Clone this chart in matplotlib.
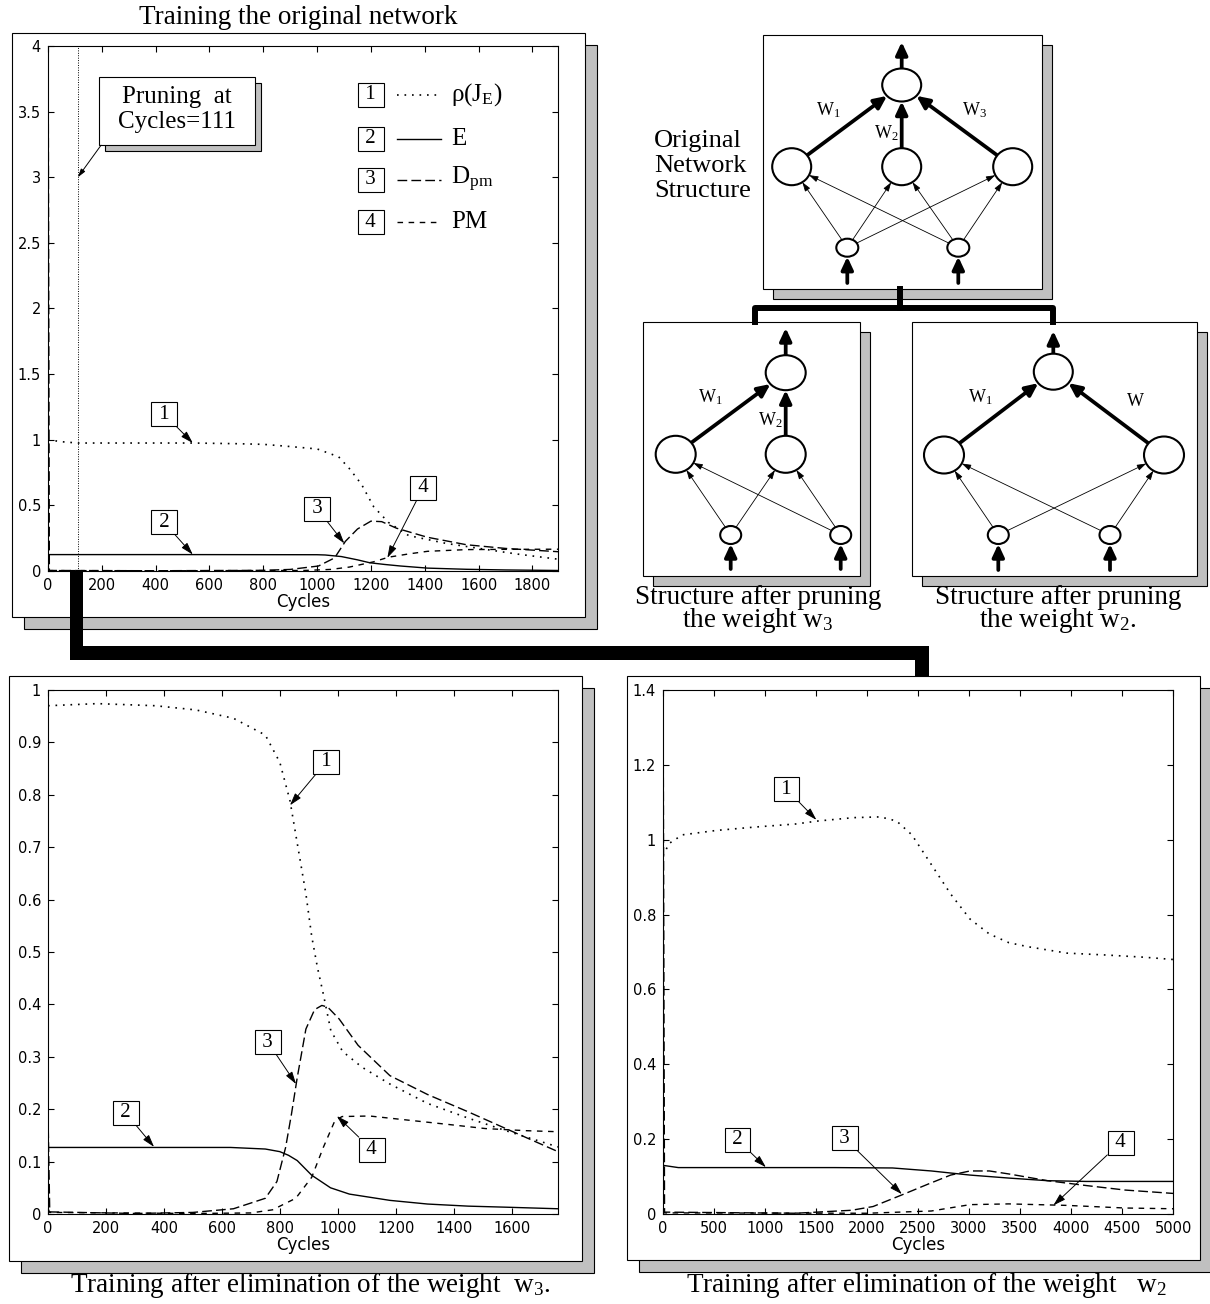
import numpy as np
import matplotlib.pyplot as plt
from matplotlib.patches import Rectangle, Ellipse
from matplotlib.ticker import FuncFormatter

plt.rcParams['font.family'] = ['DejaVu Sans']
plt.rcParams['mathtext.fontset'] = 'custom'
plt.rcParams['mathtext.rm'] = 'Liberation Serif'
plt.rcParams['mathtext.it'] = 'Liberation Serif:italic'
SERIF = ['Liberation Serif', 'DejaVu Serif']

# ---- panel 1: training the original network ----
p1_rho_x = [0, 50, 111, 300, 540, 700, 800, 890, 1000, 1080, 1120, 1165, 1210, 1265, 1340, 1480, 1625, 1740, 1895]
p1_rho_y = [1.0, 0.985, 0.975, 0.975, 0.975, 0.97, 0.965, 0.95, 0.93, 0.87, 0.78, 0.66, 0.49, 0.37, 0.27, 0.21, 0.165, 0.13, 0.09]
p1_e_x = [0, 500, 1000, 1030, 1090, 1150, 1195, 1250, 1310, 1410, 1555, 1700, 1895]
p1_e_y = [0.125, 0.125, 0.124, 0.122, 0.11, 0.085, 0.063, 0.05, 0.038, 0.022, 0.013, 0.008, 0.004]
p1_dpm_x = [0, 5, 400, 800, 900, 1005, 1065, 1105, 1150, 1200, 1240, 1295, 1410, 1555, 1700, 1895]
p1_dpm_y = [4.5, 0.004, 0.002, 0.005, 0.012, 0.038, 0.1, 0.226, 0.32, 0.38, 0.376, 0.326, 0.257, 0.2, 0.172, 0.147]
p1_pm_x = [0, 5, 500, 950, 1050, 1120, 1210, 1265, 1340, 1410, 1555, 1700, 1895]
p1_pm_y = [0.01, 0.003, 0.002, 0.004, 0.012, 0.03, 0.07, 0.105, 0.13, 0.15, 0.163, 0.165, 0.166]
prune_cycle = 111

# ---- panel 3: after elimination of w3 ----
p3_rho_x = [0, 170, 370, 510, 640, 750, 800, 835, 860, 890, 910, 930, 950, 976, 1017, 1084, 1180, 1310, 1450, 1580, 1760]
p3_rho_y = [0.97, 0.974, 0.97, 0.962, 0.946, 0.914, 0.862, 0.789, 0.708, 0.611, 0.53, 0.47, 0.42, 0.35, 0.31, 0.28, 0.248, 0.211, 0.183, 0.159, 0.128]
p3_e_x = [0, 200, 630, 750, 800, 830, 860, 910, 975, 1040, 1180, 1310, 1450, 1580, 1760]
p3_e_y = [0.127, 0.127, 0.127, 0.124, 0.119, 0.112, 0.102, 0.074, 0.05, 0.038, 0.026, 0.019, 0.015, 0.013, 0.01]
p3_dpm_x = [0, 6, 300, 500, 640, 750, 790, 820, 840, 860, 890, 920, 945, 965, 1005, 1070, 1180, 1310, 1450, 1580, 1760]
p3_dpm_y = [0.19, 0.004, 0.001, 0.003, 0.01, 0.03, 0.062, 0.127, 0.19, 0.26, 0.353, 0.39, 0.398, 0.395, 0.372, 0.322, 0.264, 0.228, 0.195, 0.163, 0.119]
p3_pm_x = [0, 6, 500, 700, 775, 855, 910, 950, 990, 1015, 1110, 1245, 1380, 1510, 1650, 1760]
p3_pm_y = [0.01, 0.003, 0.001, 0.002, 0.008, 0.03, 0.07, 0.127, 0.178, 0.186, 0.187, 0.179, 0.171, 0.163, 0.159, 0.157]

# ---- panel 4: after elimination of w2 ----
p4_rho_x = [0, 60, 190, 530, 910, 1300, 1520, 1870, 2130, 2290, 2440, 2630, 2820, 3010, 3200, 3390, 3580, 3960, 4340, 4720, 5000]
p4_rho_y = [0.957, 0.99, 1.013, 1.025, 1.034, 1.042, 1.05, 1.059, 1.061, 1.05, 1.013, 0.934, 0.855, 0.788, 0.748, 0.725, 0.714, 0.697, 0.692, 0.686, 0.68]
p4_e_x = [0, 150, 1680, 2250, 2630, 3010, 3390, 3770, 4150, 5000]
p4_e_y = [0.13, 0.124, 0.124, 0.123, 0.115, 0.104, 0.096, 0.089, 0.087, 0.087]
p4_dpm_x = [0, 15, 1300, 1850, 2060, 2360, 2600, 2820, 3010, 3200, 3390, 3770, 4150, 4530, 5000]
p4_dpm_y = [1.5, 0.005, 0.002, 0.01, 0.02, 0.053, 0.08, 0.104, 0.115, 0.115, 0.107, 0.089, 0.076, 0.064, 0.055]
p4_pm_x = [0, 15, 2000, 2630, 3010, 3390, 3960, 4530, 5000]
p4_pm_y = [0.01, 0.003, 0.002, 0.008, 0.025, 0.027, 0.023, 0.016, 0.014]

W, H = 1210, 1304
fig = plt.figure(figsize=(W / 100, H / 100), dpi=100)
bg = fig.add_axes([0, 0, 1, 1], zorder=0)
bg.set_xlim(0, W)
bg.set_ylim(H, 0)
bg.axis('off')


def px_axes(x0, y0, x1, y1):
    return fig.add_axes([x0 / W, 1 - y1 / H, (x1 - x0) / W, (y1 - y0) / H], zorder=2)


def frame(x0, y0, x1, y1, off):
    bg.add_patch(Rectangle((x0 + off, y0 + off), x1 - x0, y1 - y0, fc='#c0c0c0', ec='k', lw=0.8, zorder=1))
    bg.add_patch(Rectangle((x0, y0), x1 - x0, y1 - y0, fc='white', ec='k', lw=0.8, zorder=2))


def style(ax, xmax, ymax, xt, yt):
    ax.set_xlim(0, xmax)
    ax.set_ylim(0, ymax)
    ax.set_xticks(xt)
    ax.set_yticks(yt)
    ax.yaxis.set_major_formatter(FuncFormatter(lambda v, p: f'{round(v, 2):g}'))
    ax.tick_params(direction='in', top=True, right=True, length=4.5, width=0.8, labelsize=10.5, pad=5)
    for s in ax.spines.values():
        s.set_linewidth(0.8)
    ax.set_xlabel('Cycles', fontsize=12, labelpad=0)


DOT = (0, (1, 3.5))


def curves(ax, rx, ry, ex, ey, dx, dy, px, py):
    ax.plot(rx, ry, color='k', lw=1.2, ls=DOT)
    ax.plot(ex, ey, color='k', lw=1.0, ls='-')
    ax.plot(dx, dy, color='k', lw=1.0, ls=(0, (7, 3)))
    ax.plot(px, py, color='k', lw=1.0, ls=(0, (4, 4)))


def tag(ax, n, xy, xytext):
    ax.annotate(f' {n} ', xy=xy, xytext=xytext, fontsize=15, family=SERIF, ha='center', va='center',
                bbox=dict(boxstyle='square,pad=0.12', fc='white', ec='k', lw=0.8),
                arrowprops=dict(arrowstyle='-|>,head_length=0.5,head_width=0.15', color='k', lw=0.7,
                                shrinkA=0, shrinkB=0), zorder=6)


# frames and shadows
frame(12, 33, 585, 617, 12)
frame(9, 676, 582, 1261, 12)
frame(627, 676, 1200, 1260, 12)
frame(763, 35, 1042, 289, 10)
frame(643, 322, 860, 576, 10)
frame(912, 322, 1197, 576, 10)

# thick connectors between the training panels
bg.add_patch(Rectangle((70, 571), 13, 89, fc='k', ec='none', zorder=3))
bg.add_patch(Rectangle((70, 646), 859, 14, fc='k', ec='none', zorder=3))
bg.add_patch(Rectangle((915, 646), 14, 30, fc='k', ec='none', zorder=3))
# connectors between the network structures
bg.plot([754.5, 754.5, 1053, 1053], [322, 308, 308, 322], color='k', lw=4.3, solid_joinstyle='round', zorder=3)
bg.plot([899.5, 899.5], [289, 308], color='k', lw=4.3, zorder=3)

# titles and captions
bg.text(298, 17, 'Training the original network', fontsize=19.5, family=SERIF, ha='center', va='center')
bg.text(310, 1286, 'Training after elimination of the weight  w$_3$.', fontsize=19.5, family=SERIF, ha='center', va='center')
bg.text(926, 1286, 'Training after elimination of the weight   w$_2$', fontsize=19.5, family=SERIF, ha='center', va='center')
bg.text(758, 610, 'Structure after pruning\nthe weight w$_3$', fontsize=19.5, family=SERIF,
        ha='center', va='center', multialignment='center', linespacing=0.8)
bg.text(1058, 610, 'Structure after pruning\nthe weight w$_2$.', fontsize=19.5, family=SERIF,
        ha='center', va='center', multialignment='center', linespacing=0.8)
bg.text(654, 166, 'Original\nNetwork\nStructure', fontsize=19, family=SERIF, ha='left', va='center', linespacing=1.2)


# ---- network diagrams ----
def edge_pt(a, b):
    dx, dy = b[0] - a[0], b[1] - a[1]
    t = 1 / np.sqrt((dx / (a[2] / 2)) ** 2 + (dy / (a[3] / 2)) ** 2)
    return (a[0] + dx * t, a[1] + dy * t)


def arrow(p0, p1, thick):
    if thick:
        props = dict(arrowstyle='-|>,head_length=0.75,head_width=0.35', color='k', lw=2.7, shrinkA=0, shrinkB=0)
    else:
        props = dict(arrowstyle='-|>,head_length=0.55,head_width=0.18', color='k', lw=0.6, shrinkA=0, shrinkB=0)
    bg.annotate('', xy=p1, xytext=p0, arrowprops=props, zorder=4)


def network(out, hidden, inputs, weighted, labels, in_bottom, out_top):
    for n in [out] + hidden + inputs:
        bg.add_patch(Ellipse((n[0], n[1]), n[2], n[3], fc='white', ec='k', lw=1.5, zorder=5))
    arrow((out[0], out[1] - out[3] / 2), (out[0], out_top), True)
    for n in inputs:
        arrow((n[0], in_bottom), (n[0], n[1] + n[3] / 2), True)
        for h in hidden:
            arrow(edge_pt(n, h), edge_pt(h, n), False)
    for h in weighted:
        arrow(edge_pt(h, out), edge_pt(out, h), True)
    for (lx, ly, s) in labels:
        bg.text(lx, ly, s, fontsize=13, family=SERIF, ha='center', va='center', zorder=6)


hid_top = [(791.7, 166.7, 39, 37), (901.7, 166.7, 39, 37), (1012.7, 166.7, 39, 37)]
network((901.7, 85, 39, 33), hid_top,
        [(847.3, 247.7, 22, 18), (958.3, 247.7, 22, 18)],
        hid_top, [(828, 110, 'W$_1$'), (886, 133, 'W$_2$'), (975, 110, 'W$_3$')], 283, 42)

hid_l = [(675.7, 454.3, 40, 37), (785.7, 454.3, 40, 37)]
network((785.7, 372.7, 40, 35), hid_l,
        [(730.7, 535, 21, 18), (840.7, 535, 21, 18)],
        hid_l, [(710, 397, 'W$_1$'), (770, 420, 'W$_2$')], 569, 328)

hid_r = [(944, 455, 40, 37), (1164, 455, 40, 37)]
network((1053.3, 371.7, 39, 36), hid_r,
        [(998.3, 535, 21, 18), (1110, 535, 21, 18)],
        hid_r, [(980, 397, 'W$_1$'), (1135, 401, 'W')], 570, 331)

# ---- panel 1 ----
ax1 = px_axes(48, 46, 558, 571)
curves(ax1, p1_rho_x, p1_rho_y, p1_e_x, p1_e_y, p1_dpm_x, p1_dpm_y, p1_pm_x, p1_pm_y)
ax1.axvline(prune_cycle, color='k', lw=0.7, ls=(0, (1, 1.5)))
style(ax1, 1895, 4, np.arange(0, 1801, 200), np.arange(0, 4.01, 0.5))
tag(ax1, 1, (538, 0.975), (431, 1.196))
tag(ax1, 2, (538, 0.125), (431, 0.37))
tag(ax1, 3, (1101, 0.21), (1000, 0.476))
tag(ax1, 4, (1261, 0.10), (1394, 0.636))

# legend drawn inside panel 1
leg_labels = ['ρ(J$_{\\mathrm{E}}$)', 'E', 'D$_{\\mathrm{pm}}$', 'PM']
leg_styles = [DOT, '-', (0, (7, 3)), (0, (4, 4))]
leg_y = [0.907, 0.823, 0.745, 0.664]
for i, (lab, ls) in enumerate(zip(leg_labels, leg_styles)):
    yy = leg_y[i]
    ax1.text(0.633, yy, f' {i + 1} ', transform=ax1.transAxes, fontsize=15, family=SERIF, ha='center', va='center',
             bbox=dict(boxstyle='square,pad=0.12', fc='white', ec='k', lw=0.8))
    ax1.plot([0.684, 0.771], [yy, yy], transform=ax1.transAxes, color='k', lw=1.2 if i == 0 else 1.0, ls=ls)
    ax1.text(0.79, yy, lab, transform=ax1.transAxes, fontsize=18, family=SERIF, ha='left', va='center')

# pruning note box
ax1.add_patch(Rectangle((0.1 + 0.0118, 0.8114 - 0.0114), 0.306, 0.1286, transform=ax1.transAxes,
                        fc='#c0c0c0', ec='k', lw=0.8, zorder=5))
ax1.add_patch(Rectangle((0.1, 0.8114), 0.306, 0.1286, transform=ax1.transAxes,
                        fc='white', ec='k', lw=0.8, zorder=6))
ax1.text(0.253, 0.879, 'Pruning  at\nCycles=111', transform=ax1.transAxes, fontsize=18, family=SERIF,
         ha='center', va='center', linespacing=1.15, zorder=7)
ax1.annotate('', xy=(prune_cycle, 3.0), xytext=(0.104, 0.811), textcoords='axes fraction',
             arrowprops=dict(arrowstyle='-|>,head_length=0.5,head_width=0.15', color='k', lw=0.7,
                             shrinkA=0, shrinkB=0), zorder=7)

# ---- panel 3 ----
ax3 = px_axes(48, 690, 558, 1214)
curves(ax3, p3_rho_x, p3_rho_y, p3_e_x, p3_e_y, p3_dpm_x, p3_dpm_y, p3_pm_x, p3_pm_y)
style(ax3, 1760, 1, np.arange(0, 1601, 200), np.arange(0, 1.01, 0.1))
tag(ax3, 1, (835, 0.78), (960, 0.863))
tag(ax3, 2, (366, 0.128), (268, 0.193))
tag(ax3, 3, (856, 0.248), (759, 0.328))
tag(ax3, 4, (997, 0.187), (1117, 0.123))

# ---- panel 4 ----
ax4 = px_axes(663, 690, 1173, 1214)
curves(ax4, p4_rho_x, p4_rho_y, p4_e_x, p4_e_y, p4_dpm_x, p4_dpm_y, p4_pm_x, p4_pm_y)
style(ax4, 5000, 1.4, np.arange(0, 5001, 500), np.arange(0, 1.41, 0.2))
tag(ax4, 1, (1504, 1.053), (1211, 1.135))
tag(ax4, 2, (1009, 0.125), (731, 0.198))
tag(ax4, 3, (2342, 0.053), (1782, 0.202))
tag(ax4, 4, (3827, 0.023), (4486, 0.191))

fig.savefig('out.png', dpi=100)
